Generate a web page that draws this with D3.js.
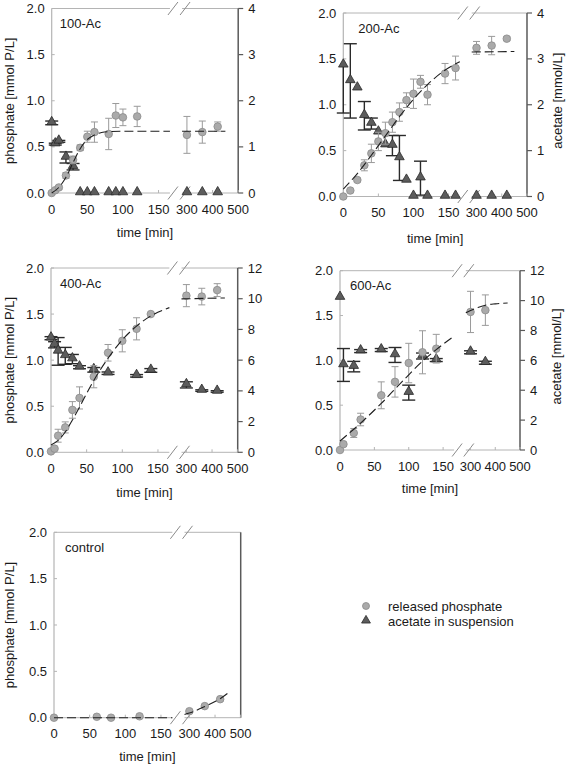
<!DOCTYPE html>
<html><head><meta charset="utf-8">
<script src="https://cdn.jsdelivr.net/npm/d3@7"></script>
<style>body{margin:0;background:#fff}svg{display:block;font-family:"Liberation Sans",Arial,sans-serif}</style>
</head><body><svg id="c" width="567" height="765"></svg>
<script>
// ---------------- DATA ----------------
const panelNames = ["100-Ac", "200-Ac", "400-Ac", "600-Ac", "control"];
const xTicks = [0, 50, 100, 150, 300, 400, 500];
const phosTicks = [0, 0.5, 1.0, 1.5, 2.0];
const acTicksLow = [0, 1, 2, 3, 4];
const acTicksHigh = [0, 2, 4, 6, 8, 10, 12];

// 100-Ac
const p1Time = [0, 5, 10, 20, 30, 40, 50, 60, 80, 90, 100, 120, 300, 360, 420];
const p1Phos = [0.0, 0.03, 0.06, 0.19, 0.36, 0.49, 0.61, 0.66, 0.64, 0.84, 0.82, 0.83, 0.63, 0.66, 0.72];
const p1PhosErr = [0.01, 0.01, 0.02, 0.03, 0.04, 0.03, 0.06, 0.11, 0.17, 0.13, 0.09, 0.11, 0.2, 0.12, 0.05];
const p1AcTime = [0, 5, 10, 20, 30, 40, 50, 60, 80, 90, 100, 120, 300, 360, 420];
const p1Ac = [1.52, 1.06, 1.12, 0.77, 0.57, 0, 0, 0, 0, 0, 0, 0, 0, 0, 0];
const p1AcErrLo = [0.04, 0.02, 0.02, 0.12, 0.07, 0, 0, 0, 0, 0, 0, 0, 0, 0, 0];
const p1AcErrHi = [0.04, 0.02, 0.02, 0.12, 0.07, 0, 0, 0, 0, 0, 0, 0, 0, 0, 0];
const p1FitT1 = [0, 10, 20, 30, 40, 50, 60, 70, 80, 100, 166];
const p1FitV1 = [0, 0.06, 0.17, 0.33, 0.48, 0.58, 0.63, 0.655, 0.665, 0.67, 0.67];
const p1FitT2 = [281, 450];
const p1FitV2 = [0.67, 0.67];

// 200-Ac
const p2Time = [0, 10, 20, 30, 40, 50, 60, 70, 80, 90, 100, 110, 120, 145, 160, 300, 360, 420];
const p2Phos = [0.0, 0.065, 0.18, 0.34, 0.47, 0.60, 0.69, 0.81, 0.92, 1.05, 1.12, 1.25, 1.11, 1.34, 1.40, 1.62, 1.645, 1.72];
const p2PhosErr = [0, 0.01, 0.02, 0.06, 0.1, 0.1, 0.12, 0.11, 0.1, 0.08, 0.16, 0.07, 0.11, 0.11, 0.13, 0.07, 0.1, 0.02];
const p2AcTime = [0, 10, 20, 30, 40, 50, 60, 70, 80, 90, 100, 110, 120, 145, 160, 300, 360, 420];
const p2Ac = [2.86, 2.52, 2.36, 1.76, 1.59, 1.40, 1.12, 1.11, 0.84, 0.35, 0, 0.40, 0, 0, 0, 0, 0, 0];
const p2AcErrLo = [1.04, 0.81, 0, 0.31, 0.12, 0, 0, 0.22, 0.49, 0, 0, 0.37, 0, 0, 0, 0, 0, 0];
const p2AcErrHi = [0, 0.81, 0, 0.31, 0.12, 0, 0, 0.22, 0.49, 0, 0, 0.37, 0, 0, 0, 0, 0, 0];
const p2FitT1 = [0, 20, 40, 60, 80, 100, 120, 140, 166];
const p2FitV1 = [0.08, 0.25, 0.45, 0.66, 0.87, 1.06, 1.22, 1.35, 1.47];
const p2FitT2 = [281, 450];
const p2FitV2 = [1.575, 1.58];

// 400-Ac
const p3Time = [0, 5, 10, 20, 30, 40, 60, 80, 100, 120, 140, 300, 360, 420];
const p3Phos = [0.01, 0.04, 0.18, 0.27, 0.46, 0.59, 0.82, 1.08, 1.21, 1.34, 1.50, 1.70, 1.69, 1.76];
const p3PhosErr = [0, 0.01, 0.07, 0.06, 0.09, 0.12, 0.12, 0.09, 0.12, 0.12, 0, 0.12, 0.09, 0.07];
const p3AcTime = [0, 5, 10, 20, 30, 40, 60, 80, 120, 140, 300, 360, 420];
const p3Ac = [7.43, 7.0, 6.57, 6.28, 6.07, 5.54, 5.37, 5.15, 4.98, 5.33, 4.39, 4.02, 3.96];
const p3AcErrLo = [0.1, 0.2, 0.9, 0.55, 0.3, 0.1, 0.15, 0.08, 0.08, 0.12, 0.2, 0.05, 0.05];
const p3AcErrHi = [0.1, 0.2, 0.9, 0.55, 0.3, 0.1, 0.15, 0.08, 0.08, 0.12, 0.2, 0.05, 0.05];
const p3FitT1 = [0, 10, 20, 30, 40, 50, 60, 80, 100, 120, 140, 166];
const p3FitV1 = [0.08, 0.13, 0.22, 0.35, 0.49, 0.64, 0.78, 1.02, 1.22, 1.37, 1.48, 1.57];
const p3FitT2 = [281, 450];
const p3FitV2 = [1.665, 1.675];

// 600-Ac
const p4Time = [0, 5, 20, 30, 60, 80, 100, 120, 140, 300, 360];
const p4Phos = [0.0, 0.065, 0.19, 0.34, 0.61, 0.76, 0.97, 1.09, 1.13, 1.54, 1.56];
const p4PhosErr = [0, 0.02, 0.05, 0.07, 0.15, 0.17, 0.22, 0.24, 0.16, 0.23, 0.17];
const p4AcTime = [0, 5, 20, 30, 60, 80, 100, 120, 140, 300, 360];
const p4Ac = [10.2, 5.69, 5.58, 6.62, 6.69, 6.36, 3.84, 6.29, 6.02, 6.54, 5.84];
const p4AcErrLo = [0, 1.1, 0.35, 0.1, 0.1, 0.5, 0.5, 0.2, 0.1, 0.1, 0.1];
const p4AcErrHi = [0, 1.1, 0.35, 0.1, 0.1, 0.5, 0.5, 0.2, 0.1, 0.1, 0.1];
const p4FitT1 = [0, 30, 60, 90, 120, 140, 166];
const p4FitV1 = [0.10, 0.30, 0.52, 0.76, 0.99, 1.12, 1.27];
const p4FitT2 = [281, 300, 330, 360, 400, 450];
const p4FitV2 = [1.53, 1.555, 1.59, 1.615, 1.63, 1.64];

// control
const p5Time = [0, 60, 80, 120, 300, 360, 420];
const p5Phos = [0.0, 0.01, 0.0, 0.015, 0.07, 0.125, 0.20];
const p5PhosErr = [0, 0, 0, 0, 0, 0, 0];
const p5FitT1 = [0, 166];
const p5FitV1 = [0, 0];
const p5FitT2 = [281, 300, 360, 420, 450];
const p5FitV2 = [0.035, 0.05, 0.12, 0.205, 0.265];

const legendLabels = ["released phosphate", "acetate in suspension"];

// ---------------- LAYOUT ----------------
const zip = (t, v, lo, hi) => t.map((d, i) => ({t: d, v: v[i], lo: lo ? lo[i] : 0, hi: hi ? hi[i] : 0}));
const panels = [
  {name: panelNames[0], g: {x: 51.7, y: 8.5, w: 186.5, h: 184.5}, titleDx: 8,
   phos: zip(p1Time, p1Phos, p1PhosErr, p1PhosErr), ac: zip(p1AcTime, p1Ac, p1AcErrLo, p1AcErrHi), acMax: 4, acTicks: acTicksLow,
   fit1: zip(p1FitT1, p1FitV1), fit2: zip(p1FitT2, p1FitV2), leftTitle: true, rightTitle: false, rightLabels: true, xTitleDy: 39},
  {name: panelNames[1], g: {x: 343.3, y: 13, w: 183.7, h: 183.5}, titleDx: 15,
   phos: zip(p2Time, p2Phos, p2PhosErr, p2PhosErr), ac: zip(p2AcTime, p2Ac, p2AcErrLo, p2AcErrHi), acMax: 4, acTicks: acTicksLow,
   fit1: zip(p2FitT1, p2FitV1), fit2: zip(p2FitT2, p2FitV2), leftTitle: false, rightTitle: true, rightLabels: true, xTitleDy: 42},
  {name: panelNames[2], g: {x: 51, y: 268, w: 186.7, h: 184.3}, titleDx: 9,
   phos: zip(p3Time, p3Phos, p3PhosErr, p3PhosErr), ac: zip(p3AcTime, p3Ac, p3AcErrLo, p3AcErrHi), acMax: 12, acTicks: acTicksHigh,
   fit1: zip(p3FitT1, p3FitV1), fit2: zip(p3FitT2, p3FitV2), leftTitle: true, rightTitle: false, rightLabels: true, xTitleDy: 40},
  {name: panelNames[3], g: {x: 340, y: 270.7, w: 180, h: 179.3}, titleDx: 10,
   phos: zip(p4Time, p4Phos, p4PhosErr, p4PhosErr), ac: zip(p4AcTime, p4Ac, p4AcErrLo, p4AcErrHi), acMax: 12, acTicks: acTicksHigh,
   fit1: zip(p4FitT1, p4FitV1), fit2: zip(p4FitT2, p4FitV2), leftTitle: false, rightTitle: true, rightLabels: true, xTitleDy: 38},
  {name: panelNames[4], g: {x: 54, y: 532.3, w: 186.7, h: 185.4}, titleDx: 11,
   phos: zip(p5Time, p5Phos, p5PhosErr, p5PhosErr), ac: [], acMax: 4, acTicks: [],
   fit1: zip(p5FitT1, p5FitV1), fit2: zip(p5FitT2, p5FitV2), leftTitle: true, rightTitle: false, rightLabels: false, xTitleDy: 39}
];

const svg = d3.select("#c");
const LIGHT = "#b4b4b4", DARK = "#5a5a5a", TXT = "#1a1a1a";
const FS = 13;

function drawPanel(p) {
  const {x: X, y: Y, w: W, h: H} = p.g;
  const b1 = 0.634 * W, b2 = 0.699 * W;
  const xs = d3.scaleLinear().domain([0, 166, 281, 500]).range([0, b1, b2, W]);
  const ys = d3.scaleLinear().domain([0, 2]).range([H, 0]);
  const ya = d3.scaleLinear().domain([0, p.acMax]).range([H, 0]);
  const g = svg.append("g").attr("transform", `translate(${X},${Y})`);

  // frame: top & bottom with gap, left light, right dark
  [0, H].forEach(yy => {
    g.append("line").attr("x1", 0).attr("x2", b1).attr("y1", yy).attr("y2", yy).attr("stroke", LIGHT).attr("stroke-width", 1);
    g.append("line").attr("x1", b2).attr("x2", W).attr("y1", yy).attr("y2", yy).attr("stroke", LIGHT).attr("stroke-width", 1);
    [b1 + 3, b2 + 3].forEach(bx => {
      g.append("line").attr("x1", bx - 5).attr("y1", yy + 6.5).attr("x2", bx + 5).attr("y2", yy - 6.5)
        .attr("stroke", "#8a8a8a").attr("stroke-width", 1);
    });
  });
  g.append("line").attr("x1", 0).attr("x2", 0).attr("y1", 0).attr("y2", H).attr("stroke", LIGHT).attr("stroke-width", 1.2);
  g.append("line").attr("x1", W).attr("x2", W).attr("y1", 0).attr("y2", H).attr("stroke", DARK).attr("stroke-width", 1.5);

  // x ticks
  const xt = g.append("g");
  xTicks.forEach(t => {
    xt.append("line").attr("x1", xs(t)).attr("x2", xs(t)).attr("y1", H).attr("y2", H - 3).attr("stroke", LIGHT);
    xt.append("text").attr("x", xs(t)).attr("y", H + 16).attr("dy", "0.35em").attr("text-anchor", "middle")
      .attr("font-size", FS).attr("fill", TXT).text(t);
  });
  // left ticks
  phosTicks.forEach(v => {
    g.append("line").attr("x1", 0).attr("x2", 3).attr("y1", ys(v)).attr("y2", ys(v)).attr("stroke", LIGHT);
    g.append("text").attr("x", -7).attr("y", ys(v)).attr("dy", "0.35em").attr("text-anchor", "end")
      .attr("font-size", FS).attr("fill", TXT).text(d3.format(".1f")(v));
  });
  // right ticks
  if (p.rightLabels) {
    p.acTicks.forEach(v => {
      g.append("line").attr("x1", W).attr("x2", W + 5).attr("y1", ya(v)).attr("y2", ya(v)).attr("stroke", DARK).attr("stroke-width", 1.2);
      g.append("text").attr("x", W + 10).attr("y", ya(v)).attr("dy", "0.35em").attr("text-anchor", "start")
        .attr("font-size", FS).attr("fill", TXT).text(v);
    });
  }
  // titles
  g.append("text").attr("x", W / 2).attr("y", H + p.xTitleDy).attr("dy", "0.35em").attr("text-anchor", "middle")
    .attr("font-size", FS).attr("fill", TXT).text("time [min]");
  if (p.leftTitle) {
    g.append("text").attr("transform", `translate(${-X + 9},${H / 2}) rotate(-90)`).attr("dy", "0.35em")
      .attr("text-anchor", "middle").attr("font-size", FS).attr("fill", TXT).text("phosphate [mmol P/L]");
  }
  if (p.rightTitle) {
    g.append("text").attr("transform", `translate(${Math.min(W + 36, 557 - X)},${H / 2 - 4}) rotate(-90)`).attr("dy", "0.35em")
      .attr("text-anchor", "middle").attr("font-size", FS).attr("fill", TXT).text("acetate [mmol/L]");
  }
  g.append("text").attr("x", p.titleDx).attr("y", 15).attr("dy", "0.35em").attr("font-size", FS).attr("fill", TXT).text(p.name);

  // acetate error bars + triangles
  const acg = g.append("g");
  p.ac.forEach(d => {
    const cx = xs(d.t);
    if (d.lo > 0 || d.hi > 0) {
      acg.append("line").attr("x1", cx).attr("x2", cx).attr("y1", ya(d.v - d.lo)).attr("y2", ya(d.v + d.hi))
        .attr("stroke", "#2a2a2a").attr("stroke-width", 1.4);
      if (d.lo > 0) acg.append("line").attr("x1", cx - 6.5).attr("x2", cx + 6.5).attr("y1", ya(d.v - d.lo)).attr("y2", ya(d.v - d.lo)).attr("stroke", "#2a2a2a").attr("stroke-width", 1.4);
      if (d.hi > 0) acg.append("line").attr("x1", cx - 6.5).attr("x2", cx + 6.5).attr("y1", ya(d.v + d.hi)).attr("y2", ya(d.v + d.hi)).attr("stroke", "#2a2a2a").attr("stroke-width", 1.4);
    }
  });
  acg.selectAll("path.tri").data(p.ac).join("path").attr("class", "tri")
    .attr("d", d3.symbol(d3.symbolTriangle, 40))
    .attr("transform", d => `translate(${xs(d.t)},${ya(d.v) - 1})`)
    .attr("fill", "#5c5c5c").attr("stroke", "#2a2a2a").attr("stroke-width", 0.8);

  // phosphate error bars + circles
  const pg = g.append("g");
  p.phos.forEach(d => {
    const cx = xs(d.t);
    if (d.lo > 0.015) {
      pg.append("line").attr("x1", cx).attr("x2", cx).attr("y1", ys(d.v - d.lo)).attr("y2", ys(d.v + d.hi)).attr("stroke", "#9a9a9a").attr("stroke-width", 1);
      [d.v - d.lo, d.v + d.hi].forEach(v => pg.append("line").attr("x1", cx - 3.5).attr("x2", cx + 3.5).attr("y1", ys(v)).attr("y2", ys(v)).attr("stroke", "#9a9a9a").attr("stroke-width", 1));
    }
  });
  pg.selectAll("circle").data(p.phos).join("circle")
    .attr("cx", d => xs(d.t)).attr("cy", d => ys(d.v)).attr("r", 3.8)
    .attr("fill", "#aaaaaa").attr("stroke", "#8a8a8a").attr("stroke-width", 0.8);

  // fit lines
  const line = d3.line().x(d => xs(d.t)).y(d => ys(d.v)).curve(d3.curveMonotoneX);
  [p.fit1, p.fit2].forEach(f => {
    g.append("path").attr("d", line(f)).attr("fill", "none").attr("stroke", "#1e1e1e")
      .attr("stroke-width", 1.1).attr("stroke-dasharray", "9,4");
  });
}
panels.forEach(drawPanel);

// legend
const lg = svg.append("g").attr("transform", "translate(366,606)");
lg.append("circle").attr("cx", 0).attr("cy", 0).attr("r", 3.5).attr("fill", "#aaaaaa").attr("stroke", "#8a8a8a").attr("stroke-width", 0.8);
lg.append("path").attr("d", d3.symbol(d3.symbolTriangle, 34)).attr("transform", "translate(0,14.5)")
  .attr("fill", "#5c5c5c").attr("stroke", "#2a2a2a").attr("stroke-width", 0.8);
legendLabels.forEach((t, i) => {
  lg.append("text").attr("x", 22).attr("y", i * 15).attr("dy", "0.35em").attr("font-size", FS).attr("fill", TXT).text(t);
});
</script>
</body></html>
